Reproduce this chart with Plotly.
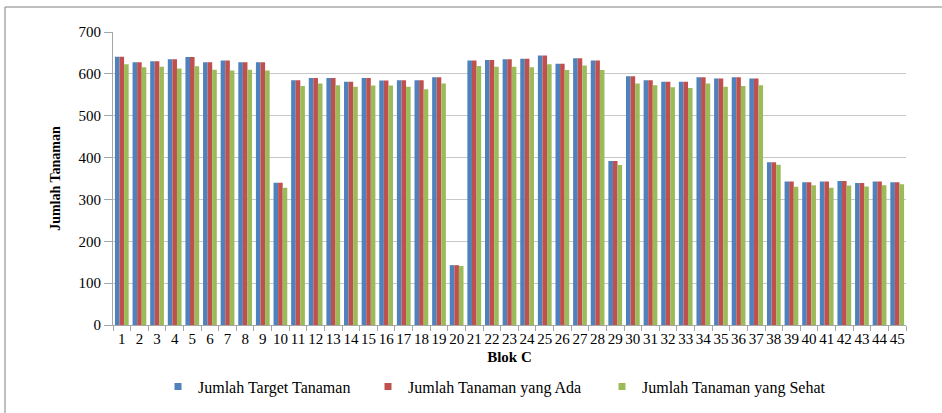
import plotly.graph_objects as go

blok = [str(i) for i in range(1, 46)]
target = [641, 628, 630, 635, 640, 628, 632, 628, 628, 340,
          585, 590, 590, 581, 590, 584, 585, 585, 592, 143,
          632, 633, 635, 636, 644, 624, 637, 632, 392, 594,
          585, 581, 581, 592, 589, 592, 589, 389, 343, 341,
          343, 344, 339, 343, 341]
ada = [641, 628, 630, 635, 640, 628, 632, 628, 628, 340,
       585, 590, 590, 581, 590, 584, 585, 585, 592, 143,
       632, 633, 635, 636, 644, 624, 637, 632, 392, 594,
       585, 581, 581, 592, 589, 592, 589, 389, 343, 341,
       343, 344, 339, 343, 341]
sehat = [623, 616, 617, 613, 618, 610, 608, 610, 608, 328,
         571, 577, 573, 569, 572, 572, 569, 563, 577, 141,
         619, 617, 617, 616, 623, 609, 620, 609, 382, 577,
         573, 568, 566, 577, 569, 571, 573, 383, 330, 334,
         328, 333, 331, 334, 336]

names = ["Jumlah Target Tanaman", "Jumlah Tanaman yang Ada", "Jumlah Tanaman yang Sehat"]
colors = ["#4F81BD", "#C0504D", "#9BBB59"]
series = [target, ada, sehat]

FONT = "Liberation Serif"
fig = go.Figure()
for nm, col, vals in zip(names, colors, series):
    fig.add_trace(go.Bar(x=blok, y=vals, name=nm, marker_color=col,
                         marker_line_width=0, showlegend=False))

legend_keys = ["legend", "legend2", "legend3"]
for nm, col, lg in zip(names, colors, legend_keys):
    fig.add_trace(go.Scatter(x=[None], y=[None], mode="markers", name=nm,
                             marker=dict(symbol="square", size=7, color=col),
                             legend=lg, showlegend=True))

leg_common = dict(orientation="h", yanchor="middle", y=-0.21, xanchor="left",
                  font=dict(family=FONT, size=16, color="black"),
                  bgcolor="rgba(0,0,0,0)", itemwidth=30)
fig.update_layout(
    width=942, height=413,
    margin=dict(l=113, r=36, t=32, b=88, autoexpand=False),
    paper_bgcolor="white", plot_bgcolor="white",
    barmode="group", bargap=0.22, bargroupgap=0,
    font=dict(family=FONT, size=15, color="black"),
    legend=dict(x=(158 - 113) / 793, **leg_common),
    legend2=dict(x=(368 - 113) / 793, **leg_common),
    legend3=dict(x=(602 - 113) / 793, **leg_common),
    xaxis=dict(type="category", tickson="boundaries", ticks="outside", ticklen=5,
               tickcolor="#A6A6A6", showline=True, linecolor="#A6A6A6",
               tickmode="array", tickvals=blok, ticktext=blok,
               showgrid=False, tickangle=0, automargin=False,
               tickfont=dict(family=FONT, size=15, color="black"),
               title=dict(text="<b>Blok C</b>", font=dict(family=FONT, size=15), standoff=5)),
    yaxis=dict(range=[0, 700], dtick=100, ticks="outside", ticklen=8,
               tickcolor="#A6A6A6", showline=True, linecolor="#A6A6A6",
               showgrid=True, gridcolor="#C8C8C8", gridwidth=1, zeroline=False,
               automargin=False,
               tickfont=dict(family=FONT, size=15, color="black"),
               title=dict(text="<b>Jumlah Tanaman</b>", font=dict(family=FONT, size=14), standoff=14)),
    shapes=[dict(type="rect", xref="paper", yref="paper",
                 x0=(5 - 113) / 793, x1=(960 - 113) / 793,
                 y0=-(100) / 293, y1=1 + 25 / 293,
                 line=dict(color="#808080", width=1), fillcolor="rgba(0,0,0,0)", layer="below")],
)

fig.write_html("out.html", config={"displayModeBar": False},
               post_script="document.body.style.margin='0px';")
